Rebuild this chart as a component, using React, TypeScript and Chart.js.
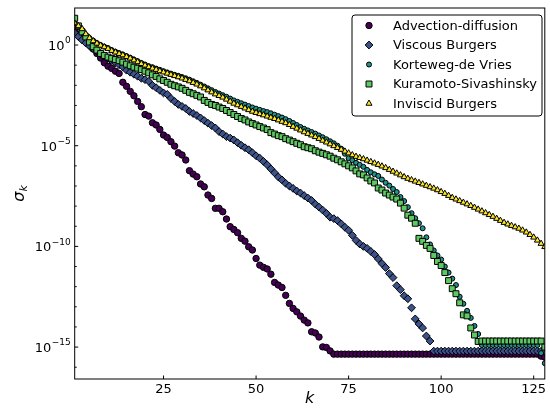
import React, { useEffect, useRef } from "react";
import { Chart, registerables } from "chart.js";

Chart.register(...registerables);

// mode index k = 1..128
const kValues: number[] = Array.from({ length: 128 }, (_, i) => i + 1);
const xTickValues = [25, 50, 75, 100, 125];
const yMajorExponents = [0, -5, -10, -15];
const yMinorExponents = [1, -1, -2, -3, -4, -6, -7, -8, -9, -11, -12, -13, -14, -16];
const yMin = 2.6e-17;
const yMax = 69;

// log10(sigma_k)
const advectionDiffusion = [
  0.7, 0.52, 0.35, 0.18, 0.0, -0.2, -0.42, -0.65, -0.88, -1.05,
  -1.16, -1.3, -1.41, -1.85, -2.05, -2.3, -2.52, -2.8, -3.06, -3.45,
  -3.53, -3.86, -3.97, -4.19, -4.47, -4.59, -4.8, -5.02, -5.35, -5.46,
  -5.71, -6.24, -6.41, -6.54, -6.9, -7.04, -7.45, -7.62, -8.11, -8.11,
  -8.28, -8.64, -9.02, -9.16, -9.32, -9.6, -9.74, -10.02, -10.18, -10.6,
  -10.93, -11.04, -11.12, -11.38, -11.79, -11.92, -12.04, -12.43, -12.83, -13.08,
  -13.25, -13.46, -13.66, -13.8, -14.24, -14.3, -14.5, -14.99, -15.02, -15.19,
  -15.35, -15.35, -15.35, -15.35, -15.35, -15.35, -15.35, -15.35, -15.35, -15.35,
  -15.35, -15.35, -15.35, -15.35, -15.35, -15.35, -15.35, -15.35, -15.35, -15.35,
  -15.35, -15.35, -15.35, -15.35, -15.35, -15.35, -15.35, -15.35, -15.35, -15.35,
  -15.35, -15.35, -15.35, -15.35, -15.35, -15.35, -15.35, -15.35, -15.35, -15.35,
  -15.35, -15.35, -15.35, -15.35, -15.35, -15.35, -15.35, -15.35, -15.35, -15.35,
  -15.35, -15.35, -15.35, -15.35, -15.35, -15.35, -15.45, -15.5,
];

const viscousBurgers = [
  0.6, 0.42, 0.25, 0.1, -0.05, -0.18, -0.3, -0.42, -0.55, -0.65,
  -0.78, -0.88, -0.98, -1.08, -1.25, -1.35, -1.45, -1.55, -1.65, -1.72,
  -1.8, -2.0, -2.12, -2.25, -2.38, -2.45, -2.65, -2.8, -2.95, -3.05,
  -3.15, -3.3, -3.4, -3.5, -3.62, -3.75, -3.88, -4.0, -4.12, -4.3,
  -4.42, -4.55, -4.62, -4.72, -4.85, -4.98, -5.1, -5.2, -5.35, -5.5,
  -5.62, -5.78, -5.95, -6.15, -6.35, -6.55, -6.7, -6.87, -7.0, -7.12,
  -7.25, -7.35, -7.48, -7.6, -7.72, -7.9, -8.05, -8.2, -8.36, -8.55,
  -8.62, -8.72, -8.88, -9.05, -9.2, -9.45, -9.7, -9.88, -10.0, -10.1,
  -10.25, -10.4, -10.62, -10.85, -11.05, -11.35, -11.55, -11.95, -12.15, -12.45,
  -12.6, -13.05, -13.6, -13.85, -14.05, -14.45, -14.7, -15.2, -15.2, -15.2,
  -15.2, -15.2, -15.2, -15.2, -15.2, -15.2, -15.2, -15.2, -15.2, -15.2,
  -15.2, -15.2, -15.2, -15.2, -15.2, -15.2, -15.2, -15.2, -15.2, -15.2,
  -15.2, -15.2, -15.2, -15.2, -15.2, -15.2, -15.2, -15.2,
];

const kortewegDeVries = [
  1.1, 0.9, 0.75, 0.5, 0.35, 0.22, 0.1, 0.0, -0.08, -0.15,
  -0.25, -0.33, -0.4, -0.47, -0.55, -0.63, -0.72, -0.8, -0.89, -0.97,
  -1.05, -1.1, -1.17, -1.23, -1.3, -1.36, -1.42, -1.48, -1.53, -1.59,
  -1.65, -1.72, -1.8, -1.88, -1.97, -2.06, -2.15, -2.24, -2.33, -2.41,
  -2.49, -2.57, -2.66, -2.75, -2.82, -2.89, -2.96, -3.03, -3.1, -3.16,
  -3.22, -3.28, -3.33, -3.39, -3.46, -3.53, -3.6, -3.68, -3.77, -3.87,
  -3.97, -4.07, -4.16, -4.24, -4.32, -4.4, -4.49, -4.58, -4.68, -4.78,
  -4.88, -5.0, -5.15, -5.4, -5.62, -5.72, -5.85, -5.95, -6.05, -6.2,
  -6.32, -6.42, -6.5, -6.68, -6.84, -6.98, -7.15, -7.3, -7.55, -7.75,
  -8.05, -8.35, -8.6, -8.85, -9.1, -9.55, -9.9, -10.2, -10.45, -10.65,
  -11.0, -11.3, -11.6, -11.92, -12.5, -12.85, -13.2, -13.55, -13.95, -14.35,
  -14.9, -14.9, -14.9, -14.9, -14.9, -14.9, -14.9, -14.9, -14.9, -14.9,
  -14.9, -14.9, -14.9, -14.9, -14.9, -14.9, -15.3, -15.8,
];

const kuramotoSivashinsky = [
  1.33, 0.95, 0.65, 0.4, 0.15, -0.08, -0.25, -0.42, -0.52, -0.6,
  -0.66, -0.72, -0.78, -0.85, -0.95, -1.03, -1.1, -1.15, -1.22, -1.3,
  -1.38, -1.48, -1.56, -1.68, -1.76, -1.85, -1.95, -2.02, -2.08, -2.15,
  -2.25, -2.35, -2.42, -2.5, -2.58, -2.75, -2.85, -2.95, -3.0, -3.08,
  -3.15, -3.25, -3.35, -3.45, -3.55, -3.65, -3.72, -3.82, -3.9, -3.97,
  -4.05, -4.12, -4.2, -4.35, -4.42, -4.5, -4.55, -4.65, -4.72, -4.8,
  -4.88, -4.95, -5.05, -5.1, -5.15, -5.25, -5.32, -5.38, -5.45, -5.52,
  -5.62, -5.7, -5.8, -5.9, -6.0, -6.1, -6.25, -6.4, -6.45, -6.6,
  -6.75, -6.85, -7.1, -7.2, -7.35, -7.45, -7.55, -7.65, -7.85, -8.1,
  -8.45, -8.6, -8.85, -9.6, -9.75, -9.95, -10.1, -10.45, -10.75, -10.95,
  -11.3, -11.7, -12.1, -12.35, -12.8, -13.4, -13.45, -14.05, -14.4, -14.72,
  -14.7, -14.7, -14.7, -14.7, -14.7, -14.7, -14.7, -14.7, -14.7, -14.7,
  -14.7, -14.7, -14.7, -14.7, -14.7, -14.7, -14.7, -15.0,
];

const inviscidBurgers = [
  1.08, 0.95, 0.8, 0.55, 0.35, 0.2, 0.08, -0.02, -0.1, -0.18,
  -0.28, -0.36, -0.43, -0.5, -0.58, -0.66, -0.75, -0.84, -0.93, -1.01,
  -1.09, -1.16, -1.22, -1.29, -1.35, -1.41, -1.47, -1.53, -1.59, -1.65,
  -1.72, -1.79, -1.87, -1.95, -2.04, -2.14, -2.24, -2.34, -2.44, -2.52,
  -2.6, -2.7, -2.8, -2.9, -2.98, -3.06, -3.14, -3.22, -3.3, -3.36,
  -3.42, -3.48, -3.54, -3.6, -3.66, -3.73, -3.8, -3.87, -3.96, -4.05,
  -4.14, -4.23, -4.32, -4.4, -4.48, -4.56, -4.65, -4.74, -4.83, -4.92,
  -5.01, -5.1, -5.19, -5.28, -5.37, -5.46, -5.54, -5.6, -5.66, -5.73,
  -5.8, -5.87, -5.94, -6.02, -6.1, -6.19, -6.28, -6.37, -6.46, -6.55,
  -6.63, -6.7, -6.77, -6.84, -6.91, -6.98, -7.05, -7.12, -7.2, -7.29,
  -7.38, -7.48, -7.58, -7.66, -7.74, -7.82, -7.9, -7.98, -8.07, -8.16,
  -8.25, -8.34, -8.43, -8.52, -8.62, -8.72, -8.82, -8.9, -8.97, -9.04,
  -9.11, -9.2, -9.3, -9.42, -9.55, -9.7, -9.86, -10.02,
];

const seriesNames = [
  "Advection-diffusion",
  "Viscous Burgers",
  "Korteweg-de Vries",
  "Kuramoto-Sivashinsky",
  "Inviscid Burgers",
];
const seriesLogValues = [
  advectionDiffusion,
  viscousBurgers,
  kortewegDeVries,
  kuramotoSivashinsky,
  inviscidBurgers,
];
const seriesColors = ["#440154", "#3b528b", "#21918c", "#5ec962", "#fde725"];
const seriesStyles = ["circle", "rectRot", "circle", "rect", "triangle"];
const seriesRadius = [3.2, 3.9, 2.5, 4.2, 3.5];

const FONT = '"DejaVu Sans", sans-serif';

function drawMarker(ctx: CanvasRenderingContext2D, style: string, x: number, y: number, r: number) {
  ctx.beginPath();
  if (style === "circle") {
    ctx.arc(x, y, r, 0, Math.PI * 2);
  } else if (style === "rectRot") {
    ctx.moveTo(x - r, y);
    ctx.lineTo(x, y - r);
    ctx.lineTo(x + r, y);
    ctx.lineTo(x, y + r);
    ctx.closePath();
  } else if (style === "rect") {
    const s = Math.SQRT1_2 * r;
    ctx.rect(x - s, y - s, 2 * s, 2 * s);
  } else if (style === "triangle") {
    ctx.moveTo(x, y - r);
    ctx.lineTo(x + r * Math.sin((2 * Math.PI) / 3), y - r * Math.cos((2 * Math.PI) / 3));
    ctx.lineTo(x + r * Math.sin((4 * Math.PI) / 3), y - r * Math.cos((4 * Math.PI) / 3));
    ctx.closePath();
  }
  ctx.fill();
  ctx.stroke();
}

const decorPlugin = {
  id: "decor",
  afterDatasetsDraw(chart: any) {
    const { ctx, chartArea: a, scales } = chart;
    const xs = scales.x;
    const ys = scales.y;
    ctx.save();
    // frame
    ctx.strokeStyle = "#000";
    ctx.lineWidth = 1;
    ctx.strokeRect(a.left, a.top, a.right - a.left, a.bottom - a.top);
    // x ticks (inward)
    ctx.beginPath();
    for (const v of xTickValues) {
      const px = xs.getPixelForValue(v);
      ctx.moveTo(px, a.bottom);
      ctx.lineTo(px, a.bottom - 3.5);
    }
    // y major ticks
    for (const e of yMajorExponents) {
      const py = ys.getPixelForValue(Math.pow(10, e));
      ctx.moveTo(a.left, py);
      ctx.lineTo(a.left + 3.5, py);
    }
    for (const e of yMinorExponents) {
      const py = ys.getPixelForValue(Math.pow(10, e));
      if (py < a.top || py > a.bottom) continue;
      ctx.moveTo(a.left, py);
      ctx.lineTo(a.left + 2, py);
    }
    ctx.stroke();

    // y tick labels: 10^e
    ctx.fillStyle = "#000";
    ctx.textBaseline = "alphabetic";
    ctx.textAlign = "left";
    for (const e of yMajorExponents) {
      const py = ys.getPixelForValue(Math.pow(10, e));
      const expText = e === 0 ? "0" : "\u2212" + Math.abs(e);
      ctx.font = `13px ${FONT}`;
      const wBase = ctx.measureText("10").width;
      ctx.font = `9px ${FONT}`;
      const wExp = ctx.measureText(expText).width;
      const x0 = a.left - 4.5 - wBase - wExp;
      ctx.font = `13px ${FONT}`;
      ctx.fillText("10", x0, py + 5);
      ctx.font = `9px ${FONT}`;
      ctx.fillText(expText, x0 + wBase + 0.5, py - 1.7);
    }

    // x axis title
    ctx.font = `italic 16px ${FONT}`;
    ctx.textAlign = "center";
    ctx.textBaseline = "alphabetic";
    ctx.fillText("k", (a.left + a.right) / 2, 403);

    // y axis title sigma_k
    ctx.save();
    ctx.translate(0, (a.top + a.bottom) / 2);
    ctx.rotate(-Math.PI / 2);
    ctx.font = `italic 16px ${FONT}`;
    const wS = ctx.measureText("\u03c3").width;
    ctx.font = `italic 11px ${FONT}`;
    const wK = ctx.measureText("k").width;
    const start = -(wS + wK) / 2;
    ctx.textAlign = "left";
    ctx.font = `italic 16px ${FONT}`;
    ctx.fillText("\u03c3", start, 24);
    ctx.font = `italic 11px ${FONT}`;
    ctx.fillText("k", start + wS, 27);
    ctx.restore();

    // legend
    const lx = 352, ly = 15, lw = 190, lh = 101;
    ctx.beginPath();
    const rr = 3;
    ctx.moveTo(lx + rr, ly);
    ctx.arcTo(lx + lw, ly, lx + lw, ly + lh, rr);
    ctx.arcTo(lx + lw, ly + lh, lx, ly + lh, rr);
    ctx.arcTo(lx, ly + lh, lx, ly, rr);
    ctx.arcTo(lx, ly, lx + lw, ly, rr);
    ctx.closePath();
    ctx.fillStyle = "#fff";
    ctx.fill();
    ctx.strokeStyle = "#000";
    ctx.lineWidth = 1;
    ctx.stroke();
    ctx.font = `13px ${FONT}`;
    ctx.textAlign = "left";
    ctx.textBaseline = "middle";
    for (let i = 0; i < seriesNames.length; i++) {
      const ry = 25.5 + i * 19.5;
      ctx.fillStyle = seriesColors[i];
      ctx.strokeStyle = "#000";
      ctx.lineWidth = 1;
      drawMarker(ctx, seriesStyles[i], 369, ry, seriesRadius[i]);
      ctx.fillStyle = "#000";
      ctx.fillText(seriesNames[i], 393, ry + 1);
    }
    ctx.restore();
  },
};

export default function App() {
  const canvasRef = useRef<HTMLCanvasElement | null>(null);

  useEffect(() => {
    document.body.style.margin = "0";
    const canvas = canvasRef.current;
    if (!canvas) return;
    const datasets = seriesNames.map((name, i) => ({
      label: name,
      data: kValues.map((k, j) => ({ x: k, y: Math.pow(10, seriesLogValues[i][j]) })),
      pointStyle: seriesStyles[i],
      pointRadius: seriesRadius[i],
      pointHoverRadius: seriesRadius[i],
      backgroundColor: seriesColors[i],
      borderColor: "#000",
      borderWidth: 1,
      showLine: false,
      clip: 0,
      order: seriesNames.length - i,
    }));
    const chart = new Chart(canvas, {
      type: "scatter",
      data: { datasets },
      options: {
        animation: false,
        responsive: false,
        devicePixelRatio: 1,
        events: [],
        layout: { padding: { top: 8, right: 1.2, left: 0, bottom: 0 } },
        plugins: { legend: { display: false }, tooltip: { enabled: false } },
        scales: {
          x: {
            type: "linear",
            min: 1,
            max: 128,
            grid: { display: false, drawTicks: false },
            border: { display: false },
            afterBuildTicks: (s: any) => {
              s.ticks = xTickValues.map((v) => ({ value: v }));
            },
            afterFit: (s: any) => {
              s.height = 37;
            },
            ticks: {
              font: { family: FONT, size: 13 },
              color: "#000",
              padding: 3,
              maxRotation: 0,
              autoSkip: false,
            },
          },
          y: {
            type: "logarithmic",
            min: yMin,
            max: yMax,
            grid: { display: false, drawTicks: false },
            border: { display: false },
            ticks: { display: false },
            afterFit: (s: any) => {
              s.width = 74.7;
            },
          },
        },
      } as any,
      plugins: [decorPlugin],
    });
    return () => chart.destroy();
  }, []);

  return (
    <div style={{ position: "absolute", left: 0, top: 0, width: 550, height: 416, background: "#fff" }}>
      <canvas ref={canvasRef} width={550} height={416} style={{ width: 550, height: 416 }} />
    </div>
  );
}
